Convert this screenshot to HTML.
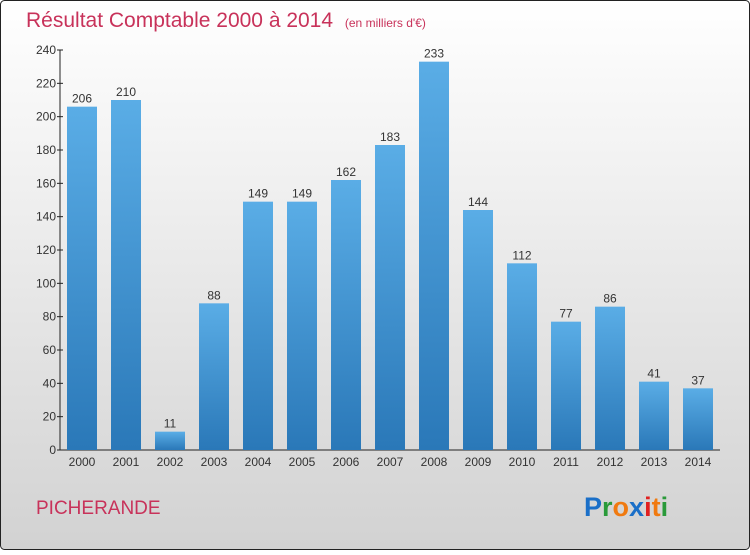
<!DOCTYPE html>
<html><head><meta charset="utf-8"><style>
body{margin:0;width:750px;height:550px;overflow:hidden;font-family:"Liberation Sans",sans-serif}
</style></head><body>
<svg id="c" width="750" height="550" xmlns="http://www.w3.org/2000/svg">
<defs>
<linearGradient id="bg" x1="0" y1="0" x2="0" y2="1"><stop offset="0" stop-color="#ffffff"/><stop offset="1" stop-color="#d2d2d2"/></linearGradient>
<linearGradient id="bar" x1="0" y1="0" x2="0" y2="1"><stop offset="0" stop-color="#5aade6"/><stop offset="1" stop-color="#2a78b8"/></linearGradient>
</defs>
<rect x="0.5" y="0.5" width="749" height="549" rx="4" fill="url(#bg)" stroke="#222"/>
<text x="26" y="27" font-size="21" fill="#c8325a">Résultat Comptable 2000 à 2014 <tspan font-size="12" dx="6">(en milliers d'€)</tspan></text>
<text x="36" y="514" font-size="19" fill="#c8325a">PICHERANDE</text>
<text x="584" y="516" font-size="27" font-weight="bold"><tspan fill="#1a6fc8">P</tspan><tspan fill="#2a9a3a">r</tspan><tspan fill="#f07a10">o</tspan><tspan fill="#1a6fc8">x</tspan><tspan fill="#e02020">i</tspan><tspan fill="#f07a10">t</tspan><tspan fill="#2a9a3a">i</tspan></text>
<g id="plot"></g>
</svg>
<script>
const categories=["2000","2001","2002","2003","2004","2005","2006","2007","2008","2009","2010","2011","2012","2013","2014"];
const values=[206,210,11,88,149,149,162,183,233,144,112,77,86,41,37];
const yTicks=[0,20,40,60,80,100,120,140,160,180,200,220,240];
const NS="http://www.w3.org/2000/svg";
const g=document.getElementById('plot');
const y=v=>450-v*400/240;
const x=i=>82+i*44;
function mk(t,a,txt){const e=document.createElementNS(NS,t);for(const k in a)e.setAttribute(k,a[k]);if(txt!==undefined)e.textContent=txt;g.appendChild(e);return e;}
let ax=mk('line',{x1:60,y1:50,x2:60,y2:450,stroke:'#222'});


let bx=mk('line',{x1:60,y1:450,x2:720,y2:450,stroke:'#222'});


yTicks.forEach(t=>{
 let l=mk('line',{x1:57,y1:y(t),x2:63,y2:y(t),stroke:'#222'});
 
 
 let tx=mk('text',{x:56,y:y(t)+4,'font-size':12,'text-anchor':'end',fill:'#333'},t);
 
 
});
categories.forEach((c,i)=>{
 let r=mk('rect',{x:x(i)-15,y:y(values[i]),width:30,height:450-y(values[i]),fill:'url(#bar)'});
 
 
 let v=mk('text',{x:x(i),y:y(values[i])-4,'font-size':12,'text-anchor':'middle',fill:'#333'},values[i]);
 
 
 let xl=mk('text',{x:x(i),y:466,'font-size':12,'text-anchor':'middle',fill:'#333'},c);
 
 
});
</script>
</body></html>
